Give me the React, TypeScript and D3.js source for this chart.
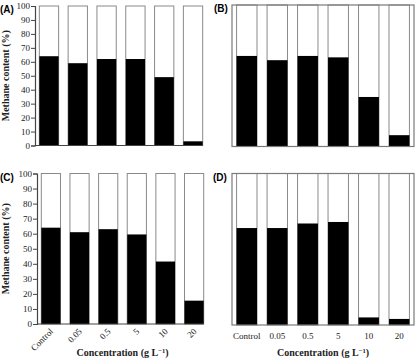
import * as d3 from "d3";
import { useEffect, useRef } from "react";

const categories = ["Control", "0.05", "0.5", "5", "10", "20"];
const methaneA = [64, 59, 62, 62, 49, 3];
const methaneB = [64, 61, 64, 63, 35, 8];
const methaneC = [64, 61, 63, 59.5, 41.5, 15.5];
const methaneD = [64, 64, 67, 68, 5, 4];
const yTicks = [0, 10, 20, 30, 40, 50, 60, 70, 80, 90, 100];

const serif = "'Liberation Serif', 'Times New Roman', serif";
const sans = "'Liberation Sans', Arial, sans-serif";

type PanelOpts = {
  label: string;
  values: number[];
  left: number;
  right: number;
  top: number;
  bottom: number;
  yAxis: boolean;
  framed: boolean;
  xLabels: "none" | "rotated" | "flat";
  labelX: number;
};

const panels: PanelOpts[] = [
  { label: "(A)", values: methaneA, left: 35, right: 207, top: 6, bottom: 145.5, yAxis: true, framed: false, xLabels: "none", labelX: 0 },
  { label: "(B)", values: methaneB, left: 232, right: 414, top: 5, bottom: 146.5, yAxis: false, framed: true, xLabels: "none", labelX: 214 },
  { label: "(C)", values: methaneC, left: 37, right: 208, top: 173.5, bottom: 324, yAxis: true, framed: false, xLabels: "rotated", labelX: 0 },
  { label: "(D)", values: methaneD, left: 232, right: 414, top: 173.5, bottom: 325, yAxis: false, framed: true, xLabels: "flat", labelX: 213 },
];

export default function App() {
  const ref = useRef<SVGSVGElement>(null);

  useEffect(() => {
    const svg = d3.select(ref.current);
    svg.selectAll("*").remove();
    svg.append("rect").attr("width", 418).attr("height", 360).attr("fill", "#fff");

    panels.forEach(p => {
      const g = svg.append("g");
      const x = d3.scaleBand<string>()
        .domain(categories)
        .range([p.left, p.right])
        .paddingInner(0.33)
        .paddingOuter(0.15);
      const y = d3.scaleLinear().domain([0, 100]).range([p.bottom, p.top]);

      // white full-height bars, then black methane share
      g.selectAll("rect.full")
        .data(p.values)
        .enter()
        .append("rect")
        .attr("x", (_, i) => x(categories[i])!)
        .attr("y", y(100))
        .attr("width", x.bandwidth())
        .attr("height", y(0) - y(100))
        .attr("fill", "#fff")
        .attr("stroke", "#8a8a8a")
        .attr("stroke-width", 1);

      g.selectAll("rect.ch4")
        .data(p.values)
        .enter()
        .append("rect")
        .attr("x", (_, i) => x(categories[i])!)
        .attr("y", d => y(d))
        .attr("width", x.bandwidth())
        .attr("height", d => y(0) - y(d))
        .attr("fill", "#000");

      if (p.framed) {
        g.append("rect")
          .attr("x", p.left)
          .attr("y", p.top)
          .attr("width", p.right - p.left)
          .attr("height", p.bottom - p.top)
          .attr("fill", "none")
          .attr("stroke", "#7a7a7a")
          .attr("stroke-width", 1.2);
      } else {
        const lastX = x(categories[categories.length - 1])! + x.bandwidth();
        g.append("line")
          .attr("x1", p.left).attr("x2", lastX)
          .attr("y1", p.bottom).attr("y2", p.bottom)
          .attr("stroke", "#444").attr("stroke-width", 1.2);
      }

      if (p.yAxis) {
        const axis = g.append("g")
          .attr("transform", `translate(${p.left},0)`)
          .call(d3.axisLeft(y).tickValues(yTicks).tickSize(4).tickPadding(1));
        axis.select(".domain").attr("stroke", "#444").attr("stroke-width", 1.2);
        axis.selectAll(".tick line").attr("stroke", "#444");
        axis.selectAll("text")
          .attr("font-family", serif)
          .attr("font-size", 9)
          .attr("fill", "#222");

        g.append("text")
          .attr("transform", `translate(9,${(p.top + p.bottom) / 2}) rotate(-90)`)
          .attr("text-anchor", "middle")
          .attr("font-family", serif)
          .attr("font-weight", "bold")
          .attr("font-size", 10)
          .attr("fill", "#222")
          .text("Methane content (%)");
      }

      if (p.xLabels === "rotated") {
        g.selectAll("text.xl")
          .data(categories)
          .enter()
          .append("text")
          .attr("transform", d => `translate(${x(d)! + x.bandwidth() / 2 + 3},${p.bottom + 8}) rotate(-45)`)
          .attr("text-anchor", "end")
          .attr("font-family", serif)
          .attr("font-size", 9)
          .attr("fill", "#222")
          .text(d => d);
      } else if (p.xLabels === "flat") {
        g.selectAll("text.xl")
          .data(categories)
          .enter()
          .append("text")
          .attr("x", d => x(d)! + x.bandwidth() / 2)
          .attr("y", p.bottom + 14)
          .attr("text-anchor", "middle")
          .attr("font-family", serif)
          .attr("font-size", 9)
          .attr("fill", "#222")
          .text(d => d);
      }

      if (p.xLabels !== "none") {
        const title = g.append("text")
          .attr("x", (p.left + p.right) / 2)
          .attr("y", 356)
          .attr("text-anchor", "middle")
          .attr("font-family", serif)
          .attr("font-weight", "bold")
          .attr("font-size", 10)
          .attr("fill", "#222");
        title.append("tspan").text("Concentration (g L");
        title.append("tspan").attr("dy", -3.5).attr("font-size", 6.5).text("−1");
        title.append("tspan").attr("dy", 3.5).text(")");
      }

      g.append("text")
        .attr("x", p.labelX)
        .attr("y", p.top + 7)
        .attr("font-family", sans)
        .attr("font-weight", "bold")
        .attr("font-size", 10)
        .attr("fill", "#000")
        .text(p.label);
    });
  }, []);

  return (
    <svg
      ref={ref}
      width={418}
      height={360}
      style={{ position: "absolute", left: 0, top: 0 }}
    />
  );
}
